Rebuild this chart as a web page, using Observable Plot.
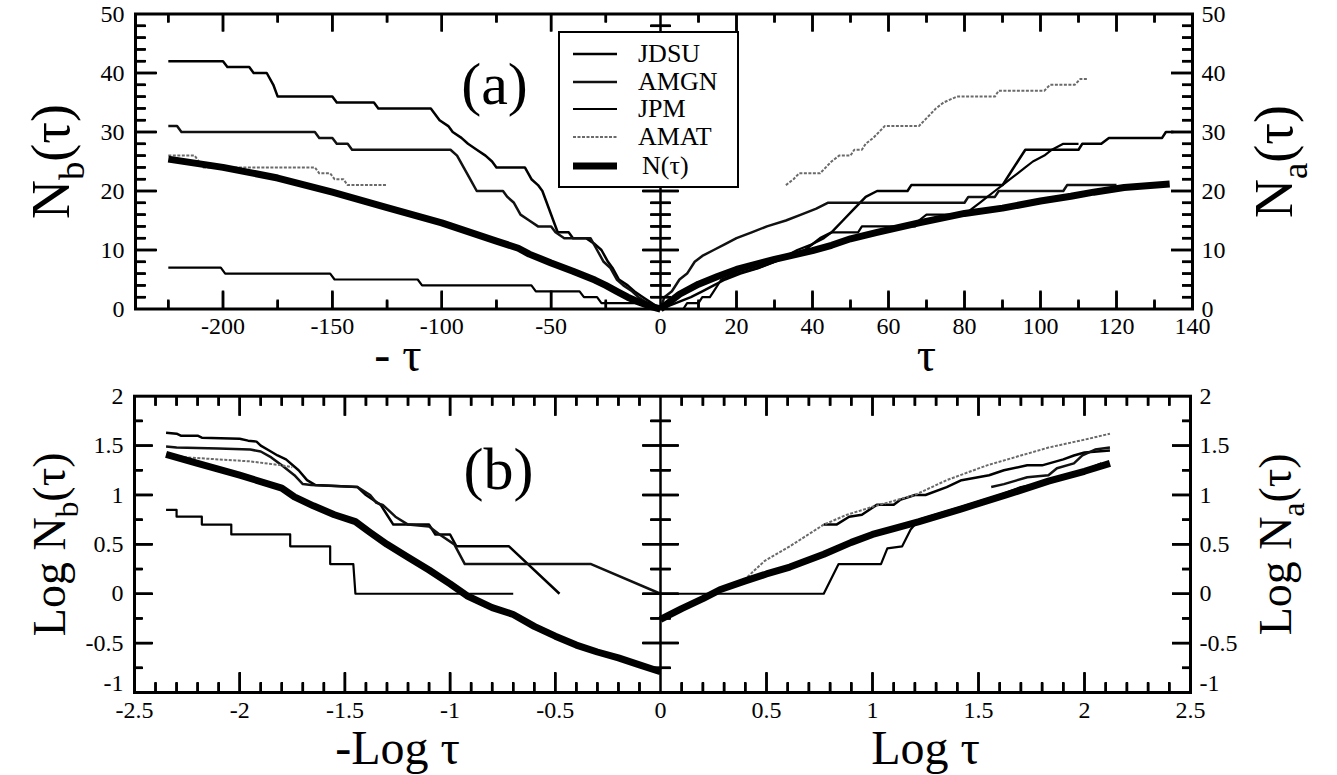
<!DOCTYPE html>
<html><head><meta charset="utf-8">
<script src="https://cdn.jsdelivr.net/npm/d3@7"></script>
<script src="https://cdn.jsdelivr.net/npm/@observablehq/plot@0.6"></script>
<style>
body{margin:0;background:#fff;}
#wrap{position:relative;width:1337px;height:775px;overflow:hidden;background:#fff;font-family:'Liberation Serif','Times New Roman',serif;}
#wrap svg.pl{position:absolute;left:0;}
#wrap svg.pl text{font-family:'Liberation Serif','Times New Roman',serif !important;}
#legend{position:absolute;left:558px;top:31px;width:177px;height:153px;border:2px solid #000;background:#fff;}
#legend .row{position:absolute;left:0;height:28px;width:177px;}
#legend .row svg{position:absolute;left:13px;top:0;}
#legend .row span{position:absolute;left:78px;top:0;line-height:28px;font-size:26px;color:#000;}
</style></head>
<body><div id="wrap"><div id="legend"></div></div>
<script>
// ---------- series names ----------
const seriesNames = ["JDSU", "AMGN", "JPM", "AMAT", "N(τ)"];

// ---------- panel (a): N_b(τ) vs -τ  (pairs: [τ, N]) ----------
const aLeftJDSU = [[225,42],[200,42],[198,41],[188,41],[186,40],[180,40],[177,38],[175,36],[150,36],[148,35],[131,35],[129,34],[105,34],[101,32],[97,31],[95,30],[91,29],[88,28],[84,27],[80,26],[77,25],[75,24],[62,24],[59,22],[56,21],[54,20],[52,18],[49,15],[47,13],[42,13],[40,12],[34,12],[30,11],[27,10],[24,8],[22,7],[19,5],[15,4],[12,3],[8,2],[4,1],[0,0]];
const aLeftAMGN = [[225,31],[221,31],[219,30],[158,30],[156,29],[150,29],[148,28],[143,28],[141,27],[96,27],[93,26],[90,24],[87,22],[84,20],[72,20],[70,19],[67,18],[64,16],[60,15],[56,14],[50,14],[48,13],[44,12],[32,12],[29,10],[26,8],[23,7],[20,5],[17,4],[13,3],[10,2],[6,1],[2,0],[0,0]];
const aLeftJPM  = [[225,7],[201,7],[199,6],[151,6],[149,5],[111,5],[109,4],[59,4],[57,3],[37,3],[35,2],[29,2],[27,1],[6,1],[3,0],[0,0]];
const aLeftAMAT = [[225,26],[213,26],[211,25],[209,24],[158,24],[156,23],[151,23],[149,22],[145,22],[143,21],[125,21]];
const aLeftN    = [[225,25.4],[200,24],[175,22.2],[150,19.8],[125,17.2],[100,14.6],[75,11.5],[65,10.3],[60,9.3],[50,7.8],[40,6.4],[30,4.9],[25,4.0],[20,3.0],[15,2.0],[10,1.2],[5,0.5],[0,0]];

// ---------- panel (a): N_a(τ) vs τ ----------
const aRightAMAT = [[33,21],[35,22],[36.5,23],[42,23],[43.5,24],[45,25],[47,26],[50,26],[51,27],[53,27],[54,28],[56,29],[57.5,30],[59,31],[68,31],[69.5,32],[71,33],[72.5,34],[74.5,35],[78,36],[88,36],[89,37],[101,37],[102.5,38],[109,38],[110.5,39],[112.5,39]];
const aRightJDSU = [[0,0],[4,1],[8,2],[11,3],[14,4],[17,5],[21,6],[26,7],[30,8],[34,9],[38,10],[42,12],[45,13],[48,15],[51,17],[54,19],[57,20],[65,20],[66,21],[90,21],[92,23],[94,25],[96,27],[110,27],[111,28],[116,28],[118,29],[132,29],[133,30],[135,30]];
const aRightAMGN = [[0,0],[1,2],[3,3],[5,5],[7,6],[9,8],[11,9],[14,10],[17,11],[20,12],[24,13],[28,14],[33,15],[37,16],[41,17],[44,18],[80,18],[81,19],[88,19],[89,20],[106,20],[107,21],[120,21]];
const aRightJPM  = [[0,0],[6,0],[7,1],[10,1],[11,2],[13,2],[14,3],[16,5],[20,6],[26,7],[30,8],[33,9],[36,10],[40,11],[43,12],[45,13],[52,13],[53,14],[67,14],[68,15],[70,16],[80,16],[82,17],[84,18],[86,19],[88,20],[90,21],[92,22],[94,23],[96,24],[98,25],[101,26],[103,27],[106,28],[110,28]];
const aRightN    = [[0,0],[5,2.5],[10,4.2],[15,5.5],[20,6.7],[30,8.4],[40,9.9],[45,10.8],[50,11.9],[57,13],[68,14.6],[80,16.2],[90,17.1],[100,18.3],[108,19.1],[114,19.8],[122,20.6],[134,21.2]];

// ---------- panel (b): Log N_b vs -Log τ  (pairs: [Log τ, Log N]) ----------
const bLeftJDSU = [[2.35,1.63],[2.3,1.62],[2.28,1.6],[2.2,1.6],[2.18,1.58],[2.0,1.57],[1.96,1.55],[1.92,1.54],[1.9,1.5],[1.86,1.45],[1.82,1.4],[1.78,1.36],[1.72,1.25],[1.68,1.15],[1.64,1.1],[1.44,1.08],[1.4,1.0],[1.33,0.9],[1.3,0.8],[1.27,0.7],[1.1,0.7],[1.07,0.6],[1.0,0.6],[0.97,0.48],[0.72,0.48],[0.48,0]];
const bLeftAMGN = [[2.35,1.49],[2.3,1.48],[2.1,1.47],[1.95,1.46],[1.9,1.44],[1.85,1.38],[1.8,1.3],[1.74,1.2],[1.7,1.11],[1.66,1.1],[1.44,1.08],[1.38,1.0],[1.35,0.92],[1.32,0.9],[1.26,0.78],[1.2,0.7],[1.1,0.68],[1.05,0.6],[0.98,0.5],[0.93,0.3],[0.33,0.3],[0,0]];
const bLeftJPM  = [[2.35,0.85],[2.3,0.85],[2.3,0.78],[2.18,0.78],[2.18,0.7],[2.04,0.7],[2.04,0.6],[1.76,0.6],[1.76,0.48],[1.57,0.48],[1.57,0.3],[1.46,0.3],[1.45,0],[0.7,0]];
const bLeftAMAT = [[2.35,1.41],[2.25,1.38],[2.1,1.36],[1.95,1.34],[1.8,1.3],[1.75,1.28]];
const bLeftN    = [[2.35,1.41],[2.2,1.32],[2.0,1.2],[1.8,1.07],[1.74,0.98],[1.65,0.89],[1.55,0.8],[1.45,0.73],[1.38,0.62],[1.3,0.5],[1.2,0.37],[1.1,0.24],[1.0,0.1],[0.92,-0.02],[0.8,-0.14],[0.7,-0.21],[0.6,-0.33],[0.5,-0.43],[0.4,-0.52],[0.3,-0.59],[0.2,-0.65],[0.1,-0.72],[0,-0.79]];

// ---------- panel (b): Log N_a vs Log τ ----------
const bRightAMAT = [[0.41,0.17],[0.49,0.33],[0.61,0.48],[0.77,0.7],[0.88,0.8],[1.0,0.88],[1.2,1.0],[1.35,1.15],[1.54,1.3],[1.7,1.4],[1.83,1.48],[2.0,1.56],[2.12,1.62]];
const bRightJDSU = [[0.77,0.7],[0.83,0.7],[0.89,0.78],[0.95,0.8],[1.02,0.9],[1.1,0.9],[1.13,0.95],[1.2,1.0],[1.25,1.0],[1.35,1.08],[1.42,1.15],[1.55,1.2],[1.62,1.25],[1.73,1.3],[1.8,1.3],[1.9,1.36],[1.95,1.4],[2.0,1.43],[2.12,1.45]];
const bRightAMGN = [[1.56,1.08],[1.62,1.11],[1.73,1.18],[1.83,1.2],[1.87,1.27],[1.95,1.32],[1.99,1.4],[2.05,1.46],[2.12,1.48]];
const bRightJPM  = [[0,0],[0.77,0],[0.84,0.3],[1.04,0.3],[1.07,0.46],[1.14,0.48],[1.18,0.65],[1.22,0.75],[1.42,0.88],[1.6,1.0],[1.7,1.08],[1.8,1.12],[1.9,1.18],[2.0,1.25],[2.08,1.32]];
const bRightN    = [[0,-0.26],[0.1,-0.15],[0.2,-0.05],[0.28,0.04],[0.4,0.13],[0.5,0.2],[0.61,0.27],[0.77,0.4],[0.9,0.52],[1.0,0.6],[1.1,0.66],[1.22,0.73],[1.42,0.86],[1.63,1.0],[1.83,1.14],[2.0,1.24],[2.12,1.32]];

// ---------- axes ----------
const aXDomain = [-240, 0, 140];
const aYDomain = [0, 50];
const aXLabels = [-200, -150, -100, -50, 0, 20, 40, 60, 80, 100, 120, 140];
const aXMajor = [-200, -150, -100, -50, 20, 40, 60, 80, 100, 120];
const aXMinor = [-225, -175, -125, -75, -25, 10, 30, 50, 70, 90, 110, 130];
const aYLabels = [0, 10, 20, 30, 40, 50];
const aYMajor = [10, 20, 30, 40];
const aYMinor = [2,4,6,8,12,14,16,18,22,24,26,28,32,34,36,38,42,44,46,48];

const bXDomain = [-2.5, 0, 2.5];
const bYDomain = [-1, 2];
const bXLabels = [-2.5, -2, -1.5, -1, -0.5, 0, 0.5, 1, 1.5, 2, 2.5];
const bXMajor = [-2, -1.5, -1, -0.5, 0.5, 1, 1.5, 2];
const bXMinor = [-2.4,-2.3,-2.2,-2.1,-1.9,-1.8,-1.7,-1.6,-1.4,-1.3,-1.2,-1.1,-0.9,-0.8,-0.7,-0.6,-0.4,-0.3,-0.2,-0.1,
                 0.1,0.2,0.3,0.4,0.6,0.7,0.8,0.9,1.1,1.2,1.3,1.4,1.6,1.7,1.8,1.9,2.1,2.2,2.3,2.4];
const bYLabels = [-1, -0.5, 0, 0.5, 1, 1.5, 2];
const bYMajor = [-0.5, 0, 0.5, 1, 1.5];
const bYMinor = [-0.75, -0.25, 0.25, 0.75, 1.25, 1.75];

// ---------- styles ----------
const FONT = "'Liberation Serif', 'Times New Roman', serif";
const styles = {
  "JDSU": {stroke: "#000", strokeWidth: 2.5},
  "AMGN": {stroke: "#111", strokeWidth: 2.5},
  "JPM":  {stroke: "#000", strokeWidth: 2.2},
  "AMAT": {stroke: "#6a6a6a", strokeWidth: 2, strokeDasharray: "3 1.5"},
  "N(τ)": {stroke: "#000", strokeWidth: 7}
};

// inward ticks: axis marks turned to face into the frame, backed by short rules at the same places
function frameTicks(cfg) {
  const H = cfg.bottom - cfg.top;
  const W = cfg.range[2] - cfg.range[0];
  const cr = cfg.range[2] - cfg.range[1];
  const [x0, xc, x1] = cfg.xDom, [y0, y1] = cfg.yDom;
  const ky = H / (y1 - y0);
  const kl = (cfg.range[1] - cfg.range[0]) / (xc - x0);
  const kr = cr / (x1 - xc);
  const none = () => "";
  const t = {tickFormat: none, label: null, stroke: "#000", strokeWidth: 2.5, tickPadding: 0};
  const s = {stroke: "#000", strokeWidth: 2.5};
  const out = [];
  [[cfg.xMajor, cfg.xLen[0]], [cfg.xMinor, cfg.xLen[1]]].forEach(([v, L]) => {
    out.push(Plot.axisX({...t, ticks: v, anchor: "top", tickSize: L, dy: H}));
    out.push(Plot.axisX({...t, ticks: v, anchor: "bottom", tickSize: L, dy: -H}));
    out.push(Plot.ruleX(v, {x: d => d, y1: y0, y2: y0 + L / ky, ...s}));
    out.push(Plot.ruleX(v, {x: d => d, y1: y1 - L / ky, y2: y1, ...s}));
  });
  [[cfg.yMajor, cfg.yLen[0], cfg.cLen[0]], [cfg.yMinor, cfg.yLen[1], cfg.cLen[1]]].forEach(([v, L, C]) => {
    out.push(Plot.axisY({...t, ticks: v, anchor: "right", tickSize: L, dx: -W}));
    out.push(Plot.axisY({...t, ticks: v, anchor: "left", tickSize: L, dx: W}));
    out.push(Plot.axisY({...t, ticks: v, anchor: "right", tickSize: C, dx: -(cr + C / 2)}));
    out.push(Plot.ruleY(v, {y: d => d, x1: x0, x2: x0 + L / kl, ...s}));
    out.push(Plot.ruleY(v, {y: d => d, x1: x1 - L / kr, x2: x1, ...s}));
    out.push(Plot.ruleY(v, {y: d => d, x1: xc - C / 2 / kl, x2: xc + C / 2 / kr, ...s}));
  });
  return out;
}
function lines(left, right) {
  const out = [];
  seriesNames.forEach((name, i) => {
    const st = {...styles[name], strokeLinejoin: "round", strokeLinecap: "butt"};
    if (left[i]) out.push(Plot.line(left[i], {x: d => -d[0], y: d => d[1], ...st}));
    if (right[i]) out.push(Plot.line(right[i], {x: d => d[0], y: d => d[1], ...st}));
  });
  return out;
}
function fmt(d) { return String(d); }

function panel(cfg) {
  const xMid = [(cfg.xDom[0] + cfg.xDom[1]) / 2, (cfg.xDom[1] + cfg.xDom[2]) / 2];
  const yLow = cfg.yDom[0];
  const yRest = cfg.yLabels.filter(d => d !== yLow);
  const ax = {tickSize: 0, tickFormat: fmt, fontSize: 24, fontFamily: FONT, label: null};
  const tx = {text: d => d, fontFamily: FONT, fill: "#000", textAnchor: "middle", lineAnchor: "middle"};
  return Plot.plot({
    width: 1337, height: cfg.height,
    marginLeft: cfg.range[0], marginRight: 1337 - cfg.range[2],
    marginTop: cfg.top, marginBottom: cfg.height - cfg.bottom,
    x: {type: "linear", domain: cfg.xDom, range: cfg.range},
    y: {domain: cfg.yDom},
    style: {fontFamily: FONT, background: "transparent", color: "#000", overflow: "visible"},
    marks: [
      ...lines(cfg.left, cfg.right),
      Plot.ruleX([0], {stroke: "#000", strokeWidth: 2.5}),
      ...frameTicks(cfg),
      Plot.frame({stroke: "#000", strokeWidth: 3}),
      Plot.axisX({...ax, ticks: cfg.xLabels, tickPadding: 8, anchor: "bottom"}),
      Plot.axisY({...ax, ticks: yRest, tickPadding: 11, anchor: "left"}),
      Plot.axisY({...ax, ticks: yRest, tickPadding: 9, anchor: "right"}),
      Plot.axisY({...ax, ticks: [yLow], tickPadding: 11, anchor: "left", dy: cfg.lowDy}),
      Plot.axisY({...ax, ticks: [yLow], tickPadding: 9, anchor: "right", dy: cfg.lowDy}),
      Plot.text([cfg.xTitles[0]], {...tx, x: xMid[0], frameAnchor: "bottom", dy: cfg.xTitleDy, fontSize: 48}),
      Plot.text([cfg.xTitles[1]], {...tx, x: xMid[1], frameAnchor: "bottom", dy: cfg.xTitleDy, fontSize: 48}),
      Plot.text([cfg.yTitles[0]], {...tx, frameAnchor: "left", dx: cfg.yTitleDx[0], fontSize: cfg.yTitleSize, rotate: -90}),
      Plot.text([cfg.yTitles[1]], {...tx, frameAnchor: "right", dx: cfg.yTitleDx[1], fontSize: cfg.yTitleSize, rotate: -90}),
      Plot.text([cfg.tag], {...tx, frameAnchor: "top-left", dx: cfg.tagPos[0], dy: cfg.tagPos[1], fontSize: 60})
    ]
  });
}

function finishText(svg, size) {
  const root = d3.select(svg);
  root.style("font-family", FONT);
  root.selectAll("text").style("font-family", FONT);
  root.selectAll("text").each(function () {
    const t = this.textContent;
    const m = t.match(/^(.*?)_([ab])(.*)$/);
    if (!m) return;
    const sel = d3.select(this);
    sel.text(null);
    sel.append("tspan").text(m[1]);
    sel.append("tspan").attr("dy", size * 0.28).attr("font-size", size * 0.68).text(m[2]);
    sel.append("tspan").attr("dy", -size * 0.28).text(m[3]);
  });
}

const wrap = document.getElementById("wrap");

const topSvg = panel({
  height: 372, top: 13.5, bottom: 308.5, range: [135, 660, 1192],
  xDom: aXDomain, yDom: aYDomain,
  xLabels: aXLabels, yLabels: aYLabels,
  xMajor: aXMajor, xMinor: aXMinor, yMajor: aYMajor, yMinor: aYMinor,
  xLen: [18, 9], yLen: [21, 10], cLen: [36, 20], lowDy: 0,
  left:  [aLeftJDSU, aLeftAMGN, aLeftJPM, aLeftAMAT, aLeftN],
  right: [aRightJDSU, aRightAMGN, aRightJPM, aRightAMAT, aRightN],
  xTitles: ["- τ", "τ"], xTitleDy: 47,
  yTitles: ["N_b(τ)", "N_a(τ)"], yTitleDx: [-84, 82], yTitleSize: 54,
  tag: "(a)", tagPos: [359, 71]
});
topSvg.classList.add("pl");
topSvg.style.top = "0px";
finishText(topSvg, 54);
wrap.insertBefore(topSvg, wrap.firstChild);

const botSvg = panel({
  height: 403, top: 23.7, bottom: 320, range: [134, 660, 1190],
  xDom: bXDomain, yDom: bYDomain,
  xLabels: bXLabels, yLabels: bYLabels,
  xMajor: bXMajor, xMinor: bXMinor, yMajor: bYMajor, yMinor: bYMinor,
  xLen: [20, 10], yLen: [18, 8], cLen: [36, 20], lowDy: -9,
  left:  [bLeftJDSU, bLeftAMGN, bLeftJPM, bLeftAMAT, bLeftN],
  right: [bRightJDSU, bRightAMGN, bRightJPM, bRightAMAT, bRightN],
  xTitles: ["-Log τ", "Log τ"], xTitleDy: 56,
  yTitles: ["Log N_b(τ)", "Log N_a(τ)"], yTitleDx: [-84, 86], yTitleSize: 46,
  tag: "(b)", tagPos: [364, 74]
});
botSvg.classList.add("pl");
botSvg.style.top = "372px";
finishText(botSvg, 46);
wrap.insertBefore(botSvg, wrap.firstChild);

// ---------- legend ----------
const legend = d3.select("#legend");
seriesNames.forEach((name, i) => {
  const row = legend.append("div").attr("class", "row").style("top", (7 + i * 27.5 + (i === 4 ? 2 : 0)) + "px");
  const s = styles[name];
  const svg = row.append("svg").attr("width", 46).attr("height", 28);
  svg.append("line").attr("x1", 0).attr("x2", 44).attr("y1", 14).attr("y2", 14)
    .attr("stroke", s.stroke).attr("stroke-width", s.strokeWidth)
    .attr("stroke-dasharray", s.strokeDasharray || null);
  row.append("span").style("left", (i === 4 ? 82 : 78) + "px").text(name);
});
</script>
</body></html>
